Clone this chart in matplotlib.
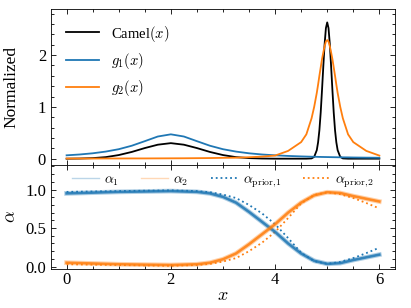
import matplotlib
matplotlib.use("Agg")
import matplotlib.pyplot as plt
from matplotlib.ticker import MultipleLocator

plt.rcParams['font.family'] = ['Liberation Serif', 'DejaVu Serif']
plt.rcParams['mathtext.fontset'] = 'cm'
plt.rcParams['axes.linewidth'] = 0.6

# top panel: densities
x_top = [0, 0.25, 0.5, 0.75, 1.0, 1.25, 1.5, 1.75, 2.0, 2.25, 2.5, 2.75, 3.0, 3.25,
         3.5, 3.75, 4.0, 4.25, 4.5, 4.6, 4.7, 4.75, 4.8, 4.825, 4.85, 4.875, 4.9,
         4.925, 4.95, 4.975, 5.0, 5.025, 5.05, 5.075, 5.1, 5.125, 5.15, 5.175, 5.2,
         5.25, 5.3, 5.4, 5.5, 5.75, 6.0]
camel = [0.0, 0.003, 0.011, 0.03, 0.07, 0.13, 0.205, 0.27, 0.30, 0.27, 0.205, 0.13,
         0.07, 0.03, 0.011, 0.003, 0.0, 0.0, 0.0, 0.0, 0.005, 0.035, 0.165, 0.316,
         0.55, 0.89, 1.32, 1.78, 2.21, 2.52, 2.63, 2.52, 2.21, 1.78, 1.32, 0.89, 0.55,
         0.316, 0.165, 0.035, 0.005, 0.0, 0.0, 0.0, 0.0]
g1 = [0.065, 0.081, 0.104, 0.137, 0.183, 0.25, 0.338, 0.428, 0.47, 0.428, 0.338, 0.25,
      0.183, 0.137, 0.104, 0.081, 0.065, 0.053, 0.044, 0.041, 0.038, 0.037, 0.036,
      0.035, 0.034, 0.034, 0.033, 0.033, 0.032, 0.032, 0.031, 0.031, 0.030, 0.030,
      0.029, 0.029, 0.028, 0.028, 0.027, 0.027, 0.026, 0.025, 0.023, 0.020, 0.018]
g2 = [0.003, 0.003, 0.003, 0.004, 0.004, 0.005, 0.005, 0.006, 0.007, 0.008, 0.01,
      0.012, 0.016, 0.019, 0.028, 0.04, 0.06, 0.15, 0.32, 0.47, 0.78, 1.0, 1.27, 1.43,
      1.6, 1.76, 1.92, 2.05, 2.17, 2.26, 2.29, 2.26, 2.17, 2.05, 1.92, 1.76, 1.6, 1.43,
      1.27, 1.0, 0.78, 0.47, 0.32, 0.15, 0.06]

# bottom panel: mixture weights
x_bot = [0, 0.5, 1, 1.5, 2, 2.5, 2.75, 3, 3.25, 3.5, 3.75, 4, 4.25, 4.5, 4.75, 5,
         5.25, 5.5, 5.75, 6]
alpha1 = [0.95, 0.96, 0.97, 0.975, 0.98, 0.97, 0.95, 0.905, 0.83, 0.71, 0.58, 0.45,
          0.30, 0.17, 0.075, 0.035, 0.045, 0.085, 0.12, 0.155]
alpha2 = [0.05, 0.04, 0.03, 0.025, 0.02, 0.03, 0.05, 0.095, 0.17, 0.29, 0.42, 0.55,
          0.70, 0.83, 0.925, 0.965, 0.955, 0.915, 0.88, 0.845]
prior1 = [0.97, 0.975, 0.98, 0.985, 0.99, 0.98, 0.965, 0.935, 0.89, 0.80, 0.69, 0.55,
          0.37, 0.18, 0.07, 0.035, 0.06, 0.11, 0.175, 0.245]
prior2 = [0.03, 0.025, 0.02, 0.015, 0.01, 0.02, 0.035, 0.065, 0.11, 0.20, 0.31, 0.45,
          0.63, 0.82, 0.93, 0.965, 0.94, 0.89, 0.825, 0.755]

blue = '#1f77b4'
orange = '#ff7f0e'

fig, (ax1, ax2) = plt.subplots(2, 1, sharex=True, figsize=(4.11, 3.08), dpi=100,
                               gridspec_kw={'height_ratios': [3, 2], 'hspace': 0})
fig.subplots_adjust(left=0.124, right=0.961, top=0.971, bottom=0.127)

ax1.plot(x_top, camel, color='k', lw=1.3, label=r'Camel$(x)$')
ax1.plot(x_top, g1, color=blue, lw=1.3, label=r'$g_1(x)$')
ax1.plot(x_top, g2, color=orange, lw=1.3, label=r'$g_2(x)$')
ax1.set_ylim(-0.12, 2.89)
ax1.set_ylabel('Normalized', fontsize=12.5)
ax1.yaxis.set_major_locator(MultipleLocator(1))
ax1.yaxis.set_minor_locator(MultipleLocator(0.2))
ax1.legend(loc='upper left', frameon=False, fontsize=10.5, handlelength=2.3,
           borderaxespad=0.6)

# faint thin lines for the legend, thick lines for the weights
ax2.plot(x_bot, alpha1, color=blue, lw=1.0, alpha=0.3, label=r'$\alpha_1$')
ax2.plot(x_bot, alpha2, color=orange, lw=1.0, alpha=0.3, label=r'$\alpha_2$')
ax2.plot(x_bot, prior1, color=blue, lw=1.3, ls=':', label=r'$\alpha_{\rm prior{,}1}$')
ax2.plot(x_bot, prior2, color=orange, lw=1.3, ls=':', label=r'$\alpha_{\rm prior{,}2}$')
for ys, c in [(alpha1, blue), (alpha2, orange)]:
    ax2.plot(x_bot, ys, color=c, lw=3.4, alpha=0.35)
    ax2.plot(x_bot, ys, color=c, lw=1.9, alpha=0.8)
ax2.set_ylim(-0.03, 1.32)
ax2.set_ylabel(r'$\alpha$', fontsize=13)
ax2.set_xlabel(r'$x$', fontsize=13, labelpad=-1)
ax2.yaxis.set_major_locator(MultipleLocator(0.5))
ax2.yaxis.set_minor_locator(MultipleLocator(0.1))
ax2.xaxis.set_major_locator(MultipleLocator(2))
ax2.xaxis.set_minor_locator(MultipleLocator(0.5))
ax2.yaxis.set_major_formatter(matplotlib.ticker.FormatStrFormatter('%.1f'))
ax2.legend(loc='upper center', ncol=4, frameon=False, fontsize=10,
           handlelength=1.9, columnspacing=1.6, handletextpad=0.4,
           borderaxespad=0.2)

for ax in (ax1, ax2):
    ax.tick_params(which='both', direction='in', top=True, right=True,
                   labelsize=12, width=0.6)
    ax.tick_params(which='major', length=3.5)
    ax.tick_params(which='minor', length=2)
ax2.tick_params(axis='x', pad=2.5)

fig.align_ylabels([ax1, ax2])
fig.savefig('out.png', dpi=100)
